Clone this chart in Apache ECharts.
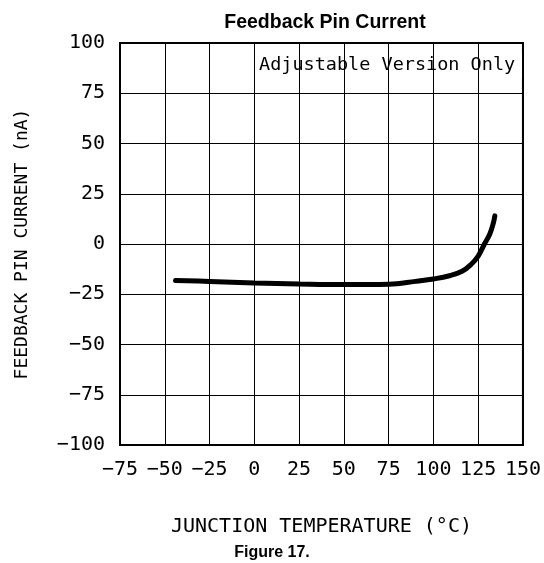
<!DOCTYPE html>
<html>
<head>
<meta charset="utf-8">
<script src="https://cdn.jsdelivr.net/npm/echarts@6/dist/echarts.min.js"></script>
<style>
  html, body { margin: 0; padding: 0; background: #fff; }
  #chart { width: 544px; height: 563px; }
</style>
</head>
<body>
<div id="chart"></div>
<script>
// junction temperature (°C) and feedback pin current (nA)
const temps = [-44, -25, 0, 25, 50, 75, 90, 100, 109, 116, 121, 125, 128.5, 131.5, 133.5, 134.3];
const current = [-18.2, -18.6, -19.4, -19.9, -20.2, -20, -18.6, -17.4, -15.8, -13.6, -10.2, -6, 0, 5, 10.5, 14];

const xTicks = [-75, -50, -25, 0, 25, 50, 75, 100, 125, 150];
const yTicks = [-100, -75, -50, -25, 0, 25, 50, 75, 100];

const mono = 'DejaVu Sans Mono';
const chart = echarts.init(document.getElementById('chart'));

chart.setOption({
  animation: false,
  backgroundColor: '#fff',
  title: [
    {
      text: 'Feedback Pin Current',
      left: 320, top: 8, textAlign: 'center',
      textStyle: { fontFamily: 'Liberation Sans', fontWeight: 'bold', fontSize: 19.5, color: '#000' }
    },
    {
      text: 'Figure 17.',
      left: 'center', top: 540,
      textStyle: { fontFamily: 'Liberation Sans', fontWeight: 'bold', fontSize: 16, color: '#000' }
    }
  ],
  grid: {
    left: 120, right: 20, top: 43, bottom: 118,
    show: true, borderColor: '#000', borderWidth: 2
  },
  xAxis: {
    type: 'value',
    min: xTicks[0], max: xTicks[xTicks.length - 1], interval: 25,
    name: 'JUNCTION TEMPERATURE (°C)',
    nameLocation: 'middle', nameGap: 72,
    nameTextStyle: { fontFamily: mono, fontSize: 20, color: '#000' },
    axisLine: { show: true, onZero: false, lineStyle: { color: '#000', width: 2 } },
    axisTick: { show: false },
    axisLabel: {
      margin: 15, fontFamily: mono, fontSize: 20, color: '#000',
      formatter: v => String(v).replace('-', '\u2212')
    },
    splitLine: { show: true, lineStyle: { color: '#000', width: 1 } }
  },
  yAxis: {
    type: 'value',
    min: yTicks[0], max: yTicks[yTicks.length - 1], interval: 25,
    name: 'FEEDBACK PIN CURRENT (nA)',
    nameLocation: 'middle', nameGap: 89,
    nameTextStyle: { fontFamily: mono, fontSize: 18, color: '#000' },
    axisLine: { show: true, onZero: false, lineStyle: { color: '#000', width: 2 } },
    axisTick: { show: false },
    axisLabel: {
      margin: 15, fontFamily: mono, fontSize: 20, color: '#000',
      formatter: v => String(v).replace('-', '\u2212')
    },
    splitLine: { show: true, lineStyle: { color: '#000', width: 1 } }
  },
  graphic: [
    {
      type: 'group', z: 50,
      children: [
        { type: 'rect', shape: { x: 257, y: 53, width: 265, height: 25 }, style: { fill: '#fff' } },
        {
          type: 'text', x: 259, y: 65.5,
          style: {
            text: 'Adjustable Version Only', fill: '#000',
            font: '18.5px "DejaVu Sans Mono"', verticalAlign: 'middle'
          }
        }
      ]
    }
  ],
  series: [{
    type: 'line',
    data: temps.map((t, i) => [t, current[i]]),
    smooth: 0.4,
    showSymbol: false,
    lineStyle: { color: '#000', width: 5, cap: 'round' },
    z: 10
  }]
});
</script>
</body>
</html>
